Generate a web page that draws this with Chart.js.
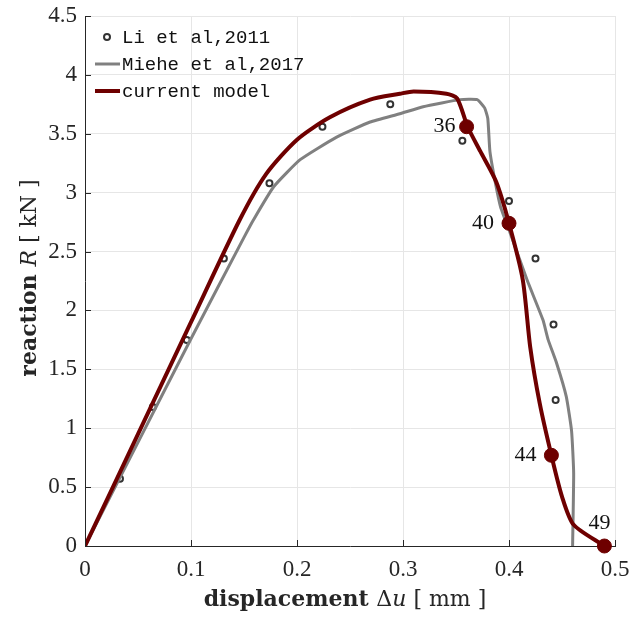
<!DOCTYPE html>
<html>
<head>
<meta charset="utf-8">
<script src="https://cdn.jsdelivr.net/npm/chart.js@4"></script>
<style>
  body { margin: 0; background: #fff; }
  #wrap { width: 631px; height: 619px; }
</style>
</head>
<body>
<div id="wrap"><canvas id="chart" width="631" height="619"></canvas></div>
<script>
// Data
const liX = [0.033, 0.064, 0.096, 0.131, 0.174, 0.224, 0.288, 0.356, 0.400, 0.425, 0.442, 0.444];
const liY = [0.57, 1.18, 1.75, 2.44, 3.08, 3.56, 3.75, 3.44, 2.93, 2.44, 1.88, 1.24];

const mieheX = [0, 0.05, 0.10, 0.15, 0.159, 0.178, 0.203, 0.237, 0.269, 0.297, 0.319, 0.354, 0.370, 0.377, 0.380, 0.382, 0.387, 0.392, 0.401, 0.417, 0.432, 0.437, 0.445, 0.454, 0.459, 0.461, 0.460];
const mieheY = [0, 0.88, 1.76, 2.62, 2.77, 3.05, 3.28, 3.47, 3.60, 3.67, 3.73, 3.79, 3.79, 3.72, 3.63, 3.35, 3.09, 2.88, 2.66, 2.26, 1.92, 1.75, 1.55, 1.27, 0.98, 0.62, 0];

const modelX = [0, 0.05, 0.10, 0.146, 0.171, 0.200, 0.231, 0.269, 0.297, 0.310, 0.341, 0.351, 0.361, 0.373, 0.388, 0.400, 0.413, 0.420, 0.429, 0.440, 0.450, 0.461, 0.490];
const modelY = [0, 0.95, 1.90, 2.77, 3.16, 3.45, 3.64, 3.79, 3.84, 3.86, 3.84, 3.80, 3.56, 3.35, 3.09, 2.74, 2.26, 1.69, 1.21, 0.77, 0.42, 0.18, 0.0];

const stepX = [0.360, 0.400, 0.440, 0.490];
const stepY = [3.56, 2.74, 0.77, 0.0];
const stepLabels = ["36", "40", "44", "49"];

const xTicks = [0, 0.1, 0.2, 0.3, 0.4, 0.5];
const yTicks = [0, 0.5, 1, 1.5, 2, 2.5, 3, 3.5, 4, 4.5];

const RED = "#6e0000";
const GRAY = "#808080";
const DARK = "#262626";

const pts = (xs, ys) => xs.map((x, i) => ({ x: x, y: ys[i] }));

Chart.defaults.font.family = "'Liberation Serif', serif";
Chart.defaults.color = DARK;

/* =========================
   EXTRA DRAWING: ticks, labels, legend, titles
========================= */
const extras = {
  id: "extras",
  afterDraw(chart) {
    const ctx = chart.ctx;
    const xs = chart.scales.x, ys = chart.scales.y;
    const a = chart.chartArea;
    ctx.save();

    // inward tick marks
    ctx.strokeStyle = DARK;
    ctx.lineWidth = 1;
    ctx.beginPath();
    xTicks.forEach(v => {
      const p = Math.round(xs.getPixelForValue(v)) + 0.5;
      ctx.moveTo(p, a.bottom); ctx.lineTo(p, a.bottom - 6);
    });
    yTicks.forEach(v => {
      const p = Math.round(ys.getPixelForValue(v)) + 0.5;
      ctx.moveTo(a.left, p); ctx.lineTo(a.left + 6, p);
    });
    ctx.stroke();

    // step labels next to the markers
    ctx.fillStyle = "#111";
    ctx.font = "22px 'Liberation Serif'";
    ctx.textBaseline = "middle";
    stepLabels.forEach((t, i) => {
      const px = xs.getPixelForValue(stepX[i]);
      const py = ys.getPixelForValue(stepY[i]);
      if (i === stepLabels.length - 1) {
        ctx.textAlign = "center";
        ctx.fillText(t, px - 5, py - 23);
      } else {
        ctx.textAlign = "right";
        ctx.fillText(t, px - (i === 0 ? 11 : 15), py);
      }
    });

    // legend
    ctx.textAlign = "left";
    ctx.font = "19px 'Liberation Mono'";
    ctx.fillStyle = "#111";
    ctx.fillText("Li et al,2011", 122, 38);
    ctx.fillText("Miehe et al,2017", 122, 65);
    ctx.fillText("current model", 122, 92);
    ctx.beginPath();
    ctx.arc(107, 37, 3, 0, Math.PI * 2);
    ctx.fillStyle = "#fff"; ctx.fill();
    ctx.lineWidth = 2; ctx.strokeStyle = "#333"; ctx.stroke();
    ctx.lineWidth = 3; ctx.strokeStyle = GRAY;
    ctx.beginPath(); ctx.moveTo(95, 64); ctx.lineTo(120, 64); ctx.stroke();
    ctx.lineWidth = 4; ctx.strokeStyle = RED;
    ctx.beginPath(); ctx.moveTo(95, 91); ctx.lineTo(120, 91); ctx.stroke();

    // axis titles with mixed styles
    const drawParts = (parts, cx, cy) => {
      let w = 0;
      parts.forEach(p => { ctx.font = p[1]; w += ctx.measureText(p[0]).width; });
      let x = cx - w / 2;
      ctx.fillStyle = DARK;
      ctx.textAlign = "left";
      ctx.textBaseline = "alphabetic";
      parts.forEach(p => { ctx.font = p[1]; ctx.fillText(p[0], x, cy); x += ctx.measureText(p[0]).width; });
    };
    const B = "bold 22px 'DejaVu Serif'";
    const R = "22px 'DejaVu Serif'";
    const I = "italic 22px 'DejaVu Serif'";
    drawParts([["displacement ", B], ["\u0394", R], ["u", I], [" [ mm ]", R]], 345, 606);
    ctx.save();
    ctx.translate(36, 278);
    ctx.rotate(-Math.PI / 2);
    drawParts([["reaction ", B], ["R", I], [" [ kN ]", R]], 0, 0);
    ctx.restore();

    ctx.restore();
  }
};

new Chart(document.getElementById("chart"), {
  type: "line",
  data: {
    datasets: [
      {
        label: "steps",
        data: pts(stepX, stepY),
        showLine: false,
        pointRadius: 7,
        pointBackgroundColor: RED,
        pointBorderColor: RED,
        clip: false
      },
      {
        label: "current model",
        data: pts(modelX, modelY),
        borderColor: RED,
        borderWidth: 4,
        pointRadius: 0,
        tension: 0.25
      },
      {
        label: "Miehe et al,2017",
        data: pts(mieheX, mieheY),
        borderColor: GRAY,
        borderWidth: 3,
        pointRadius: 0,
        tension: 0.15
      },
      {
        label: "Li et al,2011",
        data: pts(liX, liY),
        showLine: false,
        pointRadius: 3,
        pointBorderWidth: 2,
        pointBackgroundColor: "#fff",
        pointBorderColor: "#333"
      }
    ]
  },
  options: {
    responsive: false,
    animation: false,
    layout: { padding: { top: 16, right: 16, left: 0, bottom: 0 } },
    plugins: { legend: { display: false }, tooltip: { enabled: false } },
    scales: {
      x: {
        type: "linear",
        min: 0, max: 0.5,
        afterBuildTicks: s => { s.ticks = xTicks.map(v => ({ value: v })); },
        afterFit: s => { s.height = 73; s.paddingLeft = 0; s.paddingRight = 0; },
        grid: { color: "#e6e6e6", drawTicks: false },
        border: { color: DARK },
        ticks: { padding: 10, font: { size: 23 }, callback: v => String(v) }
      },
      y: {
        min: 0, max: 4.5,
        afterBuildTicks: s => { s.ticks = yTicks.map(v => ({ value: v })); },
        afterFit: s => { s.width = 85; s.paddingTop = 0; s.paddingBottom = 0; },
        grid: { color: "#e6e6e6", drawTicks: false },
        border: { color: DARK },
        ticks: { padding: 8, font: { size: 23 }, callback: v => String(v) }
      }
    }
  },
  plugins: [extras]
});
</script>
</body>
</html>
